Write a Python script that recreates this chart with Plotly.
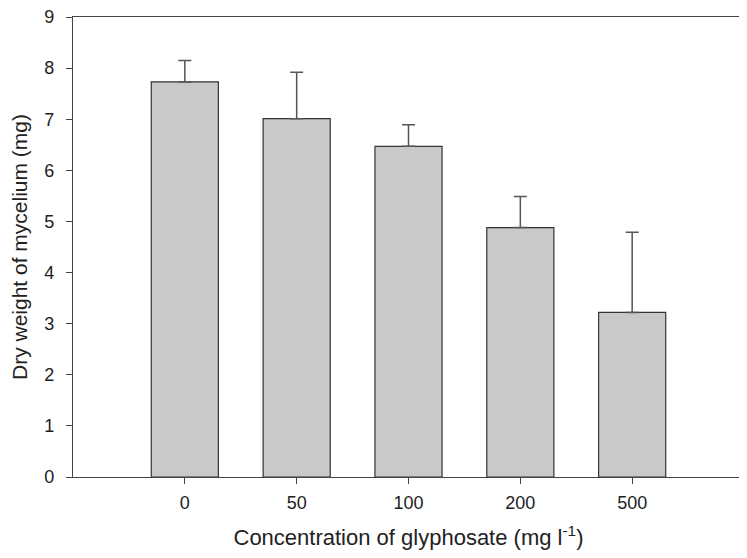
import plotly.graph_objects as go

categories = ["0", "50", "100", "200", "500"]
dry_weight = [7.73, 7.01, 6.47, 4.88, 3.22]
error_plus = [0.42, 0.91, 0.42, 0.61, 1.57]
y_ticks = [0, 1, 2, 3, 4, 5, 6, 7, 8, 9]

font_family = "Liberation Sans, Arial, sans-serif"
axis_color = "#444444"

fig = go.Figure()
fig.add_trace(go.Bar(
    x=list(range(len(categories))),
    y=dry_weight,
    width=0.6,
    marker=dict(color="#c8c9cb", line=dict(color="#333333", width=1.2)),
    error_y=dict(type="data", symmetric=False, array=error_plus,
                 arrayminus=[0] * len(error_plus),
                 color="#555555", thickness=1.5, width=6.5),
    showlegend=False,
))

fig.update_layout(
    width=737, height=542,
    margin=dict(l=65, r=1, t=9, b=73),
    plot_bgcolor="white", paper_bgcolor="white",
    font=dict(family=font_family, color="#222222"),
    xaxis=dict(
        range=[-1, 5.0],
        automargin=False,
        tickmode="array",
        tickvals=list(range(len(categories))),
        ticktext=categories,
        showline=True, linecolor=axis_color, linewidth=1.2, mirror=True,
        ticks="outside", ticklen=6, tickcolor=axis_color,
        ticklabelstandoff=3,
        ticklabeloverflow="allow",
        showgrid=False, zeroline=False,
        tickfont=dict(size=18),
        title=dict(text="Concentration of glyphosate (mg l<sup>-1</sup>)",
                   font=dict(size=22), standoff=27),
    ),
    yaxis=dict(
        range=[0, 9],
        automargin=False,
        tickmode="array",
        tickvals=y_ticks,
        showline=True, linecolor=axis_color, linewidth=1.2, mirror=True,
        ticks="outside", ticklen=6, tickcolor=axis_color,
        ticklabelstandoff=8,
        ticklabeloverflow="allow",
        showgrid=False, zeroline=False,
        tickfont=dict(size=18),
        title=dict(text="Dry weight of mycelium (mg)", font=dict(size=21),
                   standoff=24),
    ),
)

fig.write_html("out.html")
